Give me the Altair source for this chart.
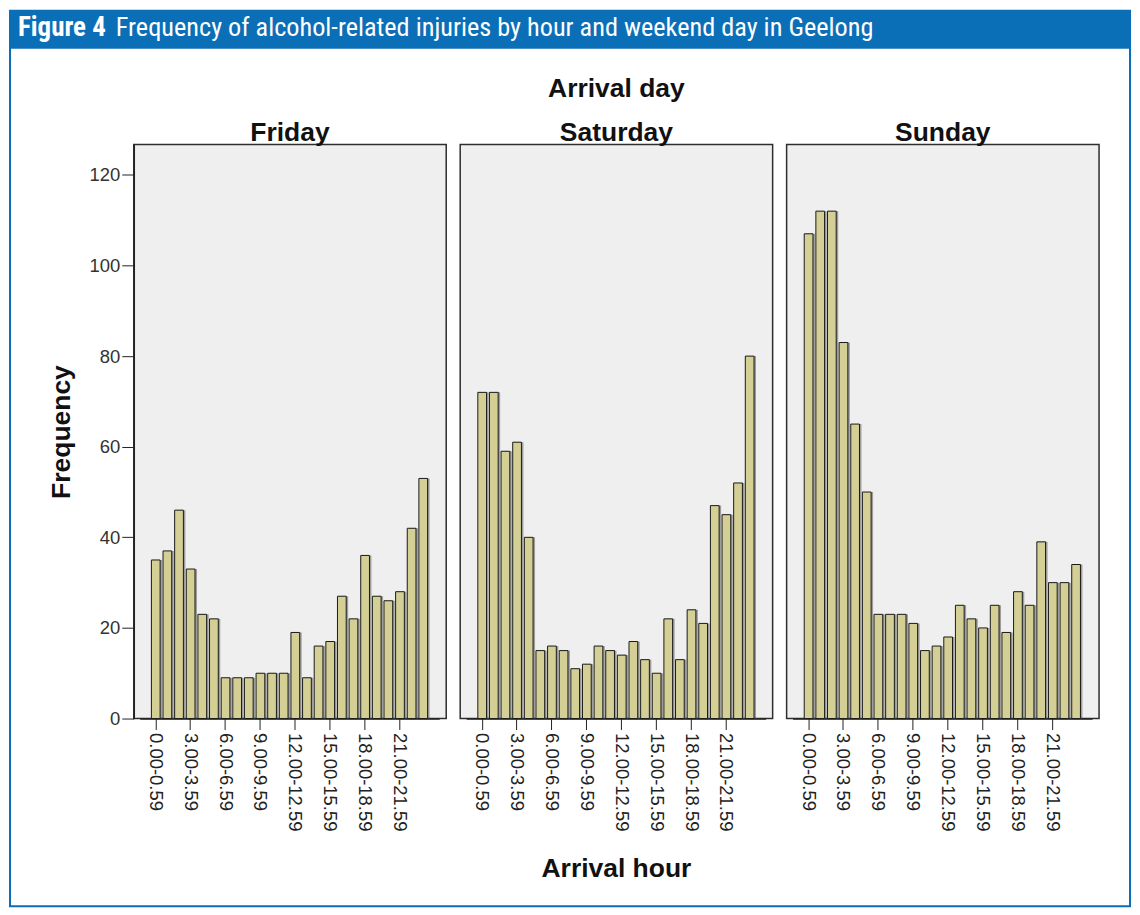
import altair as alt
import pandas as pd

# ---- data ----
hours = ["0.00-0.59", "1.00-1.59", "2.00-2.59", "3.00-3.59", "4.00-4.59", "5.00-5.59",
         "6.00-6.59", "7.00-7.59", "8.00-8.59", "9.00-9.59", "10.00-10.59", "11.00-11.59",
         "12.00-12.59", "13.00-13.59", "14.00-14.59", "15.00-15.59", "16.00-16.59", "17.00-17.59",
         "18.00-18.59", "19.00-19.59", "20.00-20.59", "21.00-21.59", "22.00-22.59", "23.00-23.59"]
tick_labels = ["0.00-0.59", "3.00-3.59", "6.00-6.59", "9.00-9.59",
               "12.00-12.59", "15.00-15.59", "18.00-18.59", "21.00-21.59"]
days = ["Friday", "Saturday", "Sunday"]
friday = [35, 37, 46, 33, 23, 22, 9, 9, 9, 10, 10, 10, 19, 9, 16, 17, 27, 22, 36, 27, 26, 28, 42, 53]
saturday = [72, 72, 59, 61, 40, 15, 16, 15, 11, 12, 16, 15, 14, 17, 13, 10, 22, 13, 24, 21, 47, 45, 52, 80]
sunday = [107, 112, 112, 83, 65, 50, 23, 23, 23, 21, 15, 16, 18, 25, 22, 20, 25, 19, 28, 25, 39, 30, 30, 34]
y_ticks = [0, 20, 40, 60, 80, 100, 120]
fig_title_bold = "Figure 4"
fig_title_rest = "Frequency of alcohol-related injuries by hour and weekend day in Geelong"

# ---- styling ----
W, H = 313, 575
FONT = "Liberation Sans, Arial, Helvetica, sans-serif"
NARROW = "Liberation Sans Narrow, Arial Narrow, Roboto Condensed, DejaVu Sans Condensed, sans-serif"
BLUE = "#0b6fb8"
BAR = "#d4cf95"
YMAX = 126.7
TSIZE = 26.5

one = pd.DataFrame({"k": [0]})


def label_text(text, x, y, size=TSIZE):
    return alt.Chart(one).mark_text(text=text, font=FONT, fontSize=size, fontWeight="bold",
                                    color="#111", align="center",
                                    baseline="alphabetic").encode(
        x=alt.value(x), y=alt.value(y))


def panel(day, values, first):
    df = pd.DataFrame({"hour": hours, "count": values})
    x = alt.X(
        "hour:N", sort=hours,
        scale=alt.Scale(paddingInner=0.25, paddingOuter=1, range=[6, 306]),
        title="Arrival hour" if day == "Saturday" else None,
        axis=alt.Axis(values=tick_labels, labelAngle=90, labelAlign="left",
                      labelBaseline="middle", labelFontSize=18.5, labelColor="#222",
                      labelFont=FONT, labelPadding=3, tickSize=11, tickColor="#222",
                      domainColor="#222", domainWidth=1.5, labelOverlap=False,
                      titleFont=FONT, titleFontSize=TSIZE, titleFontWeight="bold",
                      titleColor="#111", titlePadding=24),
    )
    if first:
        y = alt.Y("count:Q", scale=alt.Scale(domain=[0, YMAX], nice=False),
                  title="Frequency",
                  axis=alt.Axis(values=y_ticks, tickSize=12, labelPadding=2,
                                labelFontSize=18.5, labelColor="#333", labelFont=FONT,
                                tickColor="#222", domainColor="#222", domainWidth=1.5,
                                titleFont=FONT, titleFontSize=TSIZE, titleFontWeight="bold",
                                titleColor="#111", titlePadding=14))
    else:
        y = alt.Y("count:Q", scale=alt.Scale(domain=[0, YMAX], nice=False), axis=None)

    base = alt.Chart(df)
    shadow = base.mark_bar(fill="#5a5a5a", opacity=0.55, xOffset=2).encode(x=x, y=y)
    bars = base.mark_bar(fill=BAR, stroke="#1a1a1a", strokeWidth=1).encode(x=x, y=y)
    layers = []
    if first:
        frame = alt.Chart(one).mark_rect(filled=False, stroke=BLUE, strokeWidth=2).encode(
            x=alt.value(-124), x2=alt.value(998), y=alt.value(-134), y2=alt.value(763))
        header = alt.Chart(one).mark_rect(fill=BLUE).encode(
            x=alt.value(-124), x2=alt.value(998), y=alt.value(-134), y2=alt.value(-96))
        t1 = alt.Chart(one).mark_text(text=fig_title_bold, font=NARROW, fontSize=27,
                                      fontWeight="bold", color="white", align="left",
                                      baseline="alphabetic").encode(
            x=alt.value(-116), y=alt.value(-109))
        t2 = alt.Chart(one).mark_text(text=fig_title_rest, font=NARROW, fontSize=26.3,
                                      color="white", align="left",
                                      baseline="alphabetic").encode(
            x=alt.value(-18), y=alt.value(-109))
        layers += [frame, header, t1, t2]
    if day == "Saturday":
        layers.append(label_text("Arrival day", W / 2, -48))
    layers.append(label_text(day, W / 2, -4))
    layers += [shadow, bars]
    return alt.layer(*layers).properties(width=W, height=H)


chart = alt.hconcat(
    panel("Friday", friday, True),
    panel("Saturday", saturday, False),
    panel("Sunday", sunday, False),
    spacing=14, bounds="flush",
).properties(padding=0, background="white").configure_view(
    fill="#efefef", stroke="#2e2e2e", strokeWidth=1.5
).configure_axis(grid=False)

chart.save("out.html", embed_options={"renderer": "svg", "actions": False})
